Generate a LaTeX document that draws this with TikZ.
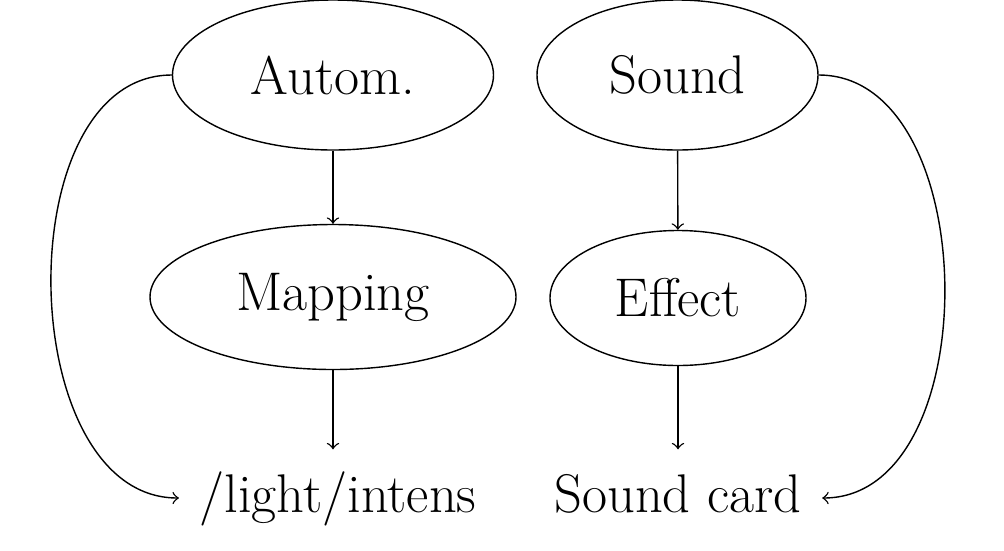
\documentclass[tikz,border=0pt]{standalone}
\usetikzlibrary{shapes.geometric}

\begin{document}
\begin{tikzpicture}
                \tikzset{blob/.style={ellipse, draw, inner sep=0pt},
                 label text/.style={inner xsep=0.2cm, inner ysep=0.2cm,
                 text height=0.42cm, text depth=0.14cm, anchor=base},
                 every node/.style={font=\fontsize{15.5}{18}\selectfont}}

                \useasboundingbox (0,0) rectangle (10.04,5.5);

                \node[blob, minimum width=3.21cm, minimum height=1.5cm] (autom) at (3.33,4.75) {Autom.};
                \node[blob, minimum width=3.66cm, minimum height=1.45cm] (mapping) at (3.33,2.53) {Mapping};
                \node[blob, minimum width=2.81cm, minimum height=1.5cm] (sound) at (6.775,4.75) {Sound};
                \node[blob, minimum width=2.56cm, minimum height=1.35cm] (effect) at (6.78,2.52) {Effect};

                \node[label text] (light) at (3.38,0.38) {/light/intens};
                \node[label text] (card) at (6.78,0.38) {Sound card};

                \draw[->] (autom) -- (mapping);
                \draw[->] (sound) -- (effect);
                \draw[->] (mapping.south) -- (mapping.south |- light.north);
                \draw[->] (effect.south) -- (effect.south |- card.north);

                \draw[->] (autom.west) to[out=180, in=180] (light.west);
                \draw[->] (sound.east) to[out=0, in=0] (card.east);
            \end{tikzpicture}
\end{document}
